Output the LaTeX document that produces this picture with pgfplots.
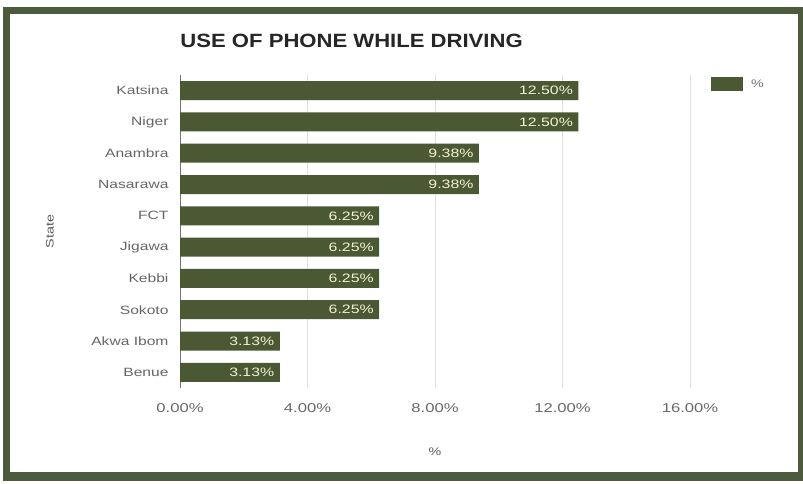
\documentclass[border=0pt]{standalone}
\usepackage{fontspec}
\setmainfont{Liberation Sans}[FakeStretch=1.3]
\newfontfamily\titlefont{Liberation Sans}[FakeStretch=1.15]
\usepackage{pgfplots}
\pgfplotsset{compat=1.18}
\definecolor{barc}{RGB}{74,89,52}
\definecolor{framec}{RGB}{75,91,60}
\definecolor{lab}{RGB}{244,240,212}
\definecolor{txt}{RGB}{105,105,105}
\begin{document}
\begin{tikzpicture}
\useasboundingbox (0pt,0pt) rectangle (803pt,484pt);
\fill[framec] (3pt,3pt) rectangle (803pt,477pt);
\fill[white] (10pt,12pt) rectangle (798pt,470pt);
\begin{axis}[
  at={(180pt,96pt)}, anchor=south west,
  scale only axis, width=510pt, height=313pt,
  xbar, bar width=19pt,
  xmin=0, xmax=16, ymin=-0.5, ymax=9.5,
  ytick={0,...,9},
  yticklabels={Benue,Akwa Ibom,Sokoto,Kebbi,Jigawa,FCT,Nasarawa,Anambra,Niger,Katsina},
  xtick={0,4,8,12,16},
  xticklabel={\pgfmathprintnumber[fixed,fixed zerofill,precision=2,assume math mode=true]{\tick}\%},
  xticklabel style={font=\fontsize{12.8}{14}\selectfont, text=txt, yshift=-12pt},
  yticklabel style={font=\fontsize{12}{14}\selectfont, text=black!60, xshift=-8pt},
  axis lines*=left,
  x axis line style={draw=none},
  y axis line style={draw=black!55, -},
  major tick length=0pt,
  xmajorgrids, grid style={black!12},
  point meta=x,
  nodes near coords={\pgfmathprintnumber[fixed,fixed zerofill,precision=2,assume math mode=true]{\pgfplotspointmeta}\%},
  nodes near coords style={anchor=east, text=lab, font=\fontsize{12.2}{14}\selectfont, xshift=-2pt},
  ylabel={State},
  ylabel style={at={(axis description cs:-0.255,0.5)}, anchor=center, font=\fontsize{11}{13}\selectfont, text=black!65},
  xlabel={\%},
  xlabel style={at={(axis description cs:0.5,-0.204)}, anchor=center, font=\fontsize{11}{13}\selectfont, text=black!65},
  title={USE OF PHONE WHILE DRIVING},
  title style={at={(axis description cs:-0.006,1.09)}, anchor=west, font=\titlefont\bfseries\fontsize{19.2}{21}\selectfont, text=black!85},
  legend style={at={(1.035,1)}, anchor=north west, draw=none, fill=none, font=\fontsize{11}{13}\selectfont, text=black!55},
  legend image code/.code={\fill[barc] (0pt,-7pt) rectangle (32pt,7pt);},
  clip=false,
]
\addplot[fill=barc, draw=none] coordinates {(3.13,0) (3.13,1) (6.25,2) (6.25,3) (6.25,4) (6.25,5) (9.38,6) (9.38,7) (12.5,8) (12.5,9)};
\addlegendentry{\hspace{6pt}\%}
\end{axis}
\end{tikzpicture}
\end{document}
